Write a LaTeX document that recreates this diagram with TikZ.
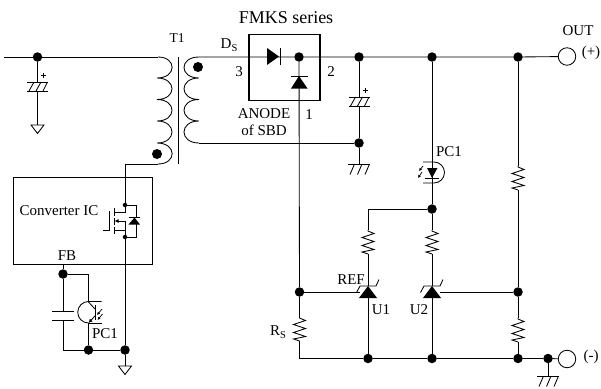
\documentclass[tikz,border=0pt]{standalone}
\usepackage{fontspec}
\setmainfont{Liberation Serif}
\usepackage{tikz}
\usetikzlibrary{arrows.meta}
\newcommand{\subS}{\raisebox{-2.5pt}{\fontsize{10.5}{10.5}\selectfont S}}
\tikzset{
  wire/.style={line width=0.85},
  junc/.style={circle,fill=black,inner sep=0,minimum size=9.5},
  smalljunc/.style={circle,fill=black,inner sep=0,minimum size=4.5},
  term/.style={circle,draw,line width=0.85,fill=white,inner sep=0,minimum size=17.5},
  lbl/.style={inner sep=0,font=\fontsize{15}{15}\selectfont},
  resistorsym/.pic={
    \draw[wire] (0,0)--(0,1)--(6,3.5)--(-6,7.5)--(6,11.5)--(-6,15.5)--(6,19.5)--(-6,22)--(0,24);
  },
  capsym/.pic={
    \draw[wire] (-10.5,0)--(10.5,0);
    \draw[wire] (-10.5,9)--(10.5,9);
    \draw[wire] (-8.5,9)--(-3.5,0);
    \draw[wire] (-1.5,9)--(3.5,0);
    \draw[wire] (5.5,9)--(10,0);
    \draw[line width=0.7] (3.5,-6.5)--(8.5,-6.5);
    \draw[line width=0.7] (6,-9)--(6,-4);
  },
  earthsym/.pic={
    \draw[wire] (-11,0)--(11,0);
    \draw[wire] (-4.5,0)--(-9,10.5);
    \draw[wire] (3,0)--(-1.5,10.5);
    \draw[wire] (10.5,0)--(6,10.5);
  },
  gndsym/.pic={
    \draw[wire] (-6.5,0)--(6.5,0)--(0,8.5)--cycle;
  },
  shuntsym/.pic={
    \fill (-9,12)--(9,12)--(0,0)--cycle;
    \draw[wire] (-11.5,6.5)--(-8,0)--(8,0)--(11,-6.5);
  },
  glowarrow/.style={line width=0.7,-{Latex[length=3,width=3]}},
}
\begin{document}
\begin{tikzpicture}[x=1pt, y=-1pt]
\useasboundingbox (0,0) rectangle (601,388);
% boxes
\node[draw,line width=0.85,minimum width=138.5,minimum height=87,inner sep=0] (icbox) at (83,220.5) {};
\node[draw,line width=1.4,minimum width=71,minimum height=65.5,inner sep=0] (fmks) at (284.5,67.5) {};
% points of the wires
\coordinate (infree) at (4,57);
\node[junc] (jin) at (37.5,57) {};
\coordinate (pritop) at (158,57);
\coordinate (pribot) at (158,164);
\coordinate (prileft) at (125,164);
\coordinate (sectop) at (199,57);
\coordinate (secbot) at (199,143);
\node[junc] (jmid) at (299,57) {};
\node[junc] (jcapa) at (359,57) {};
\node[junc] (jled) at (432,57) {};
\node[junc] (jrtop) at (518,57) {};
\node[term] (outp) at (567,56.5) {};
\node[junc] (jcapb) at (359,143) {};
\node[junc] (jref) at (432,209) {};
\coordinate (refleft) at (368,209);
\node[junc] (jrs) at (299.5,292) {};
\node[junc] (jrmid) at (518,292) {};
\node[junc] (jbot) at (518,358.5) {};
\node[junc] (jua) at (368,358.5) {};
\node[junc] (jub) at (432,358.5) {};
\coordinate (rsbot) at (299.5,358.5);
\node[junc] (jgnd) at (548,358.5) {};
\node[term] (outn) at (567,359) {};
\node[junc] (jfb) at (63,274) {};
\node[junc] (jpc) at (88.5,350) {};
\node[junc] (jsrc) at (125,350) {};
\coordinate (fbtop) at (63,264);
\coordinate (fbright) at (88.5,274);
\coordinate (fbleft) at (63,350);
\node[smalljunc] (mosd) at (125,205) {};
\node[smalljunc] (moss) at (125,237) {};
% main wires
\draw[wire] (infree)--(jin)--(pritop);
\draw[wire] (sectop)--(jmid)--(jcapa)--(jled)--(jrtop)--(outp);
\draw[wire] (secbot)--(jcapb);
\draw[wire] (jcapa)--(359,97);
\draw[wire] (359,106)--(jcapb)--(359,164);
\draw[wire] (jmid)--(jrs);
\draw[wire] (jrs)--(299.5,317);
\draw[wire] (299.5,341)--(rsbot)--(jua)--(jub)--(jbot)--(jgnd)--(outn);
\draw[wire] (jled)--(jref);
\draw[wire] (jref)--(refleft)--(368,230);
\draw[wire] (368,254)--(368,286);
\draw[wire] (jref)--(432,230);
\draw[wire] (432,254)--(432,286);
\draw[wire] (jrs)--(360,292);
\draw[wire] (440,292)--(jrmid);
\draw[wire] (368,298)--(jua);
\draw[wire] (432,298)--(jub);
\draw[wire] (jrtop)--(518,166);
\draw[wire] (518,190)--(jrmid)--(518,318);
\draw[wire] (518,342)--(jbot);
\draw[wire] (jgnd)--(548,376);
\draw[wire] (jin)--(37.5,82);
\draw[wire] (37.5,91)--(37.5,125);
% transformer
\draw[wire] (pritop) .. controls (177,57) and (177,78) .. (157,78)
  .. controls (177,78) and (177,99.5) .. (157,99.5)
  .. controls (177,99.5) and (177,121) .. (157,121)
  .. controls (177,121) and (177,143) .. (157,143)
  .. controls (177,143) and (177,164) .. (pribot);
\draw[wire] (sectop) .. controls (179,57) and (179,78) .. (199,78)
  .. controls (179,78) and (179,99.5) .. (199,99.5)
  .. controls (179,99.5) and (179,121) .. (199,121)
  .. controls (179,121) and (179,143) .. (secbot);
\draw[wire] (178,57)--(178,164);
\fill (157,154) circle (5);
\fill (198,67) circle (5);
% primary side wires
\draw[wire] (pribot)--(prileft)--(mosd);
\draw[wire] (moss)--(jsrc)--(125,366);
\draw[wire] (fbtop)--(jfb)--(63,311);
\draw[wire] (63,320)--(fbleft)--(jpc)--(jsrc);
\draw[wire] (jfb)--(fbright)--(88.5,302);
\draw[wire] (88.5,323)--(jpc);
% mosfet
\draw[wire] (mosd)--(125,212)--(114,212);
\draw[wire] (moss)--(125,221)--(116,221);
\draw[wire] (125,230)--(114,230);
\draw[wire] (114,208)--(114,216);
\draw[wire] (114,218)--(114,224.5);
\draw[wire] (114,226.5)--(114,234);
\draw[wire] (103,230)--(109,230)--(109,211);
\draw[line width=0.7,-{Latex[length=4,width=4]}] (121,221)--(114.5,221);
\draw[wire] (mosd)--(136,205)--(136,218);
\draw[wire] (136,224)--(136,237)--(moss);
\fill (128.5,224.5)--(140,224.5)--(134.5,217.5)--cycle;
\draw[wire] (128.5,217.5)--(140,217.5);
% capacitors
\path (37.5,82) pic {capsym};
\path (359,97) pic {capsym};
\draw[wire] (52,311)--(74,311);
\draw[wire] (52,320)--(74,320);
% earth and ground
\path (359,164) pic {earthsym};
\path (548,376) pic {earthsym};
\path (37.5,125) pic {gndsym};
\path (125,366) pic {gndsym};
% resistors
\path (299.5,317) pic {resistorsym};
\path (368,230) pic {resistorsym};
\path (432,230) pic {resistorsym};
\path (518,166) pic {resistorsym};
\path (518,318) pic {resistorsym};
% diodes in the module
\fill (267,48)--(267,65)--(279,56.5)--cycle;
\draw[line width=1] (280,48)--(280,65);
\fill (291,88.5)--(307.5,88.5)--(299,76)--cycle;
\draw[line width=1] (290.5,76)--(307.5,76);
% shunt regulators
\path (368,286) pic {shuntsym};
\path (432,286) pic {shuntsym};
% photo transistor
\draw[wire] (101.5,301.5)--(88.5,301.5) arc (-90:-270:10.75);
\draw[wire] (88.5,323)--(101.5,323);
\draw[wire] (95,305)--(95,320);
\draw[wire] (88.5,302)--(95,309);
\draw[wire,-{Latex[length=4,width=4]}] (95,316)--(88.5,323);
\draw[glowarrow] (102,309)--(97,315);
\draw[glowarrow] (102.5,314)--(97.5,320);
% led
\draw[wire] (423,162)--(434,162) arc (-90:90:10.5)--(423,183);
\draw[wire] (jled)--(432,168);
\draw[wire] (432,178)--(432,190);
\fill (427,168)--(437.5,168)--(432,178)--cycle;
\draw[wire] (425,178)--(439,178);
\draw[glowarrow] (423,166)--(419,171);
\draw[glowarrow] (422,172)--(418,178);
% texts
\node[lbl,font=\fontsize{13.5}{14}\selectfont] (t1lab) at (177,38) {T1};
\node[lbl,font=\fontsize{18}{18}\selectfont] (fmkslab) at (286,18) {FMKS series};
\node[lbl] (dslab) at (229,45) {D\subS};
\node[lbl] (threelab) at (239,72) {3};
\node[lbl] (twolab) at (331,72) {2};
\node[lbl] (onelab) at (309,115) {1};
\node[lbl] (anodelab) at (264,114) {ANODE};
\node[lbl] (sbdlab) at (264,130) {of SBD};
\node[lbl] (iclab) at (59,211) {Converter IC};
\node[lbl] (fblab) at (67,256) {FB};
\node[lbl] (pcalab) at (105,334) {PC1};
\node[lbl] (pcblab) at (449,152) {PC1};
\node[lbl] (reflab) at (351,280) {REF};
\node[lbl] (ualab) at (381,310) {U1};
\node[lbl] (ublab) at (419,310) {U2};
\node[lbl] (rslab) at (278,332) {R\subS};
\node[lbl] (outlab) at (578,31) {OUT};
\node[lbl] (pluslab) at (591,53) {(+)};
\node[lbl] (minuslab) at (591,357) {(-)};
\end{tikzpicture}
\end{document}
